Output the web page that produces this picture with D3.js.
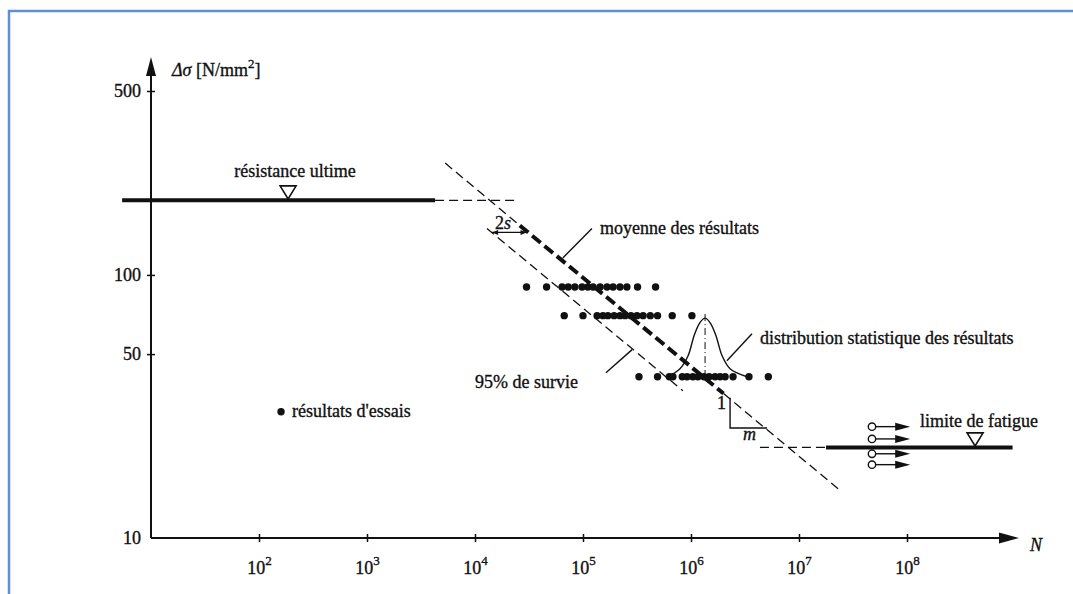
<!DOCTYPE html>
<html lang="fr">
<head>
<meta charset="utf-8">
<title>Courbe de Wöhler</title>
<script src="https://cdn.jsdelivr.net/npm/d3@7"></script>
<style>
  body { margin: 0; background: #fff; }
  svg { display: block; font-family: "Liberation Serif", "DejaVu Serif", serif; }
  .tick text { font-size: 18px; fill: #111; stroke: #111; stroke-width: 0.35px; }
  .tick line { stroke: #111; stroke-width: 1.5px; }
  .lbl { font-size: 18px; fill: #111; stroke: #111; stroke-width: 0.35px; }
</style>
</head>
<body>
<div id="chart"></div>
<script>
// axis ticks
var yTicks = [10, 50, 100, 500];
var xTicks = [1e2, 1e3, 1e4, 1e5, 1e6, 1e7, 1e8];

// test results: stress level (N/mm2) and cycle counts per row
var levels = [90, 70, 41];
var resultsN = [
  [3.0e4, 4.6e4, 6.4e4, 7.3e4, 8.4e4, 9.8e4, 1.11e5, 1.24e5, 1.44e5, 1.67e5, 1.90e5, 2.2e5, 2.55e5, 3.2e5, 4.7e5],
  [6.7e4, 1.0e5, 1.35e5, 1.53e5, 1.70e5, 1.94e5, 2.2e5, 2.45e5, 2.78e5, 3.16e5, 3.6e5, 4.2e5, 4.9e5, 6.7e5, 1.02e6],
  [3.3e5, 4.9e5, 6.3e5, 6.8e5, 8.3e5, 9.2e5, 1.04e6, 1.16e6, 1.32e6, 1.47e6, 1.67e6, 1.86e6, 2.07e6, 2.45e6, 3.44e6, 5.2e6]
];

// mean curve (thin, thick, thin parts) and 95% survival curve
var meanN = [5.3e3, 2.6e4, 2.0e6, 2.3e7];
var meanS = [266, 154, 35.4, 15.4];
var survN = [1.29e4, 8.4e5];
var survS = [150, 36.3];

// ultimate strength and fatigue limit
var ultimateS = 192;
var ultimateN = [5.4, 4.27e3, 2.45e4];   // solid start, solid end, dashed end
var ultimateMark = 186;
var fatigueS = 22.1;
var fatigueN = [4.35e6, 1.78e7, 9.5e8]; // dashed start, solid start, solid end
var fatigueMark = 4.27e8;

// run-outs (circles with arrows)
var runoutS = [26.5, 23.8, 20.9, 19.0];
var runoutN = [4.74e7, 1.07e8];

// statistical distribution bell at N = 1.35e6
var bellN = [6.1e5, 7.9e5, 9.4e5, 1.07e6, 1.21e6, 1.35e6, 1.50e6, 1.70e6, 1.94e6, 2.30e6, 3.30e6];
var bellS = [41, 44, 49.3, 58.9, 65.9, 68.5, 65.9, 58.9, 49.3, 44, 41];

// slope triangle 1 : m
var slopeN = [2.3e6, 5.06e6];
var slopeS = [34.1, 26.2];

var W = 1073, H = 594;
var x = d3.scaleLog().domain([10, 1e9]).range([151, 1015]);
var y = d3.scaleLog().domain([10, 500]).range([538, 91]);

var svg = d3.select("#chart").append("svg")
  .attr("width", W).attr("height", H);

// blue frame
svg.append("rect")
  .attr("x", 9).attr("y", 11).attr("width", W + 20).attr("height", H + 20)
  .attr("fill", "none").attr("stroke", "#5f90d6").attr("stroke-width", 2.5);

var x0 = x(10), yBase = y(10);

// y axis
var gy = svg.append("g").attr("transform", "translate(" + x0 + ",0)")
  .call(d3.axisLeft(y).tickValues(yTicks).tickFormat(d3.format("d")).tickSize(4).tickPadding(6))
  .attr("font-family", null).attr("font-size", null);
gy.select(".domain").remove();
gy.selectAll(".tick line").attr("x1", 4);
gy.selectAll(".tick").filter(function(d) { return d === 10; }).select("line").remove();

// x axis
var gx = svg.append("g").attr("transform", "translate(0," + yBase + ")")
  .call(d3.axisBottom(x).tickValues(xTicks).tickFormat(function() { return "10"; }).tickSize(4))
  .attr("font-family", null).attr("font-size", null);
gx.select(".domain").remove();
gx.selectAll(".tick line").attr("y1", -4);
gx.selectAll(".tick text")
  .attr("y", 36).attr("dy", 0)
  .append("tspan").attr("dy", -9).attr("font-size", 13)
  .text(function(d) { return Math.round(Math.log10(d)); });

// axis lines with arrows
svg.append("line").attr("x1", x0).attr("y1", yBase).attr("x2", x0).attr("y2", 70)
  .attr("stroke", "#111").attr("stroke-width", 2);
svg.append("path").attr("d", "M" + x0 + ",57 L" + (x0 - 5) + ",76 L" + (x0 + 5) + ",76 Z").attr("fill", "#111");
svg.append("line").attr("x1", x0).attr("y1", yBase).attr("x2", 1004).attr("y2", yBase)
  .attr("stroke", "#111").attr("stroke-width", 2);
svg.append("path").attr("d", "M1019," + yBase + " L999," + (yBase - 5.5) + " L999," + (yBase + 5.5) + " Z").attr("fill", "#111");

// axis titles
var yt = svg.append("text").attr("class", "lbl").attr("x", 172).attr("y", 76);
yt.append("tspan").attr("font-style", "italic").text("Δσ");
yt.append("tspan").text(" [N/mm");
yt.append("tspan").attr("dy", -8).attr("font-size", 13).text("2");
yt.append("tspan").attr("dy", 8).text("]");
svg.append("text").attr("class", "lbl").attr("x", 1030).attr("y", 551)
  .attr("font-style", "italic").text("N");

var line = d3.line().x(function(d) { return x(d[0]); }).y(function(d) { return y(d[1]); });
function seg(n, s, i, j) { return [[n[i], s[i]], [n[j], s[j]]]; }

// ultimate strength
svg.append("path").attr("d", line([[ultimateN[0], ultimateS], [ultimateN[1], ultimateS]]))
  .attr("stroke", "#111").attr("stroke-width", 4).attr("fill", "none");
svg.append("path").attr("d", line([[ultimateN[1], ultimateS], [ultimateN[2], ultimateS]]))
  .attr("stroke", "#111").attr("stroke-width", 1.3).attr("stroke-dasharray", "9,5").attr("fill", "none");

// fatigue limit
svg.append("path").attr("d", line([[fatigueN[0], fatigueS], [fatigueN[1], fatigueS]]))
  .attr("stroke", "#111").attr("stroke-width", 1.3).attr("stroke-dasharray", "9,5").attr("fill", "none");
svg.append("path").attr("d", line([[fatigueN[1], fatigueS], [fatigueN[2], fatigueS]]))
  .attr("stroke", "#111").attr("stroke-width", 4).attr("fill", "none");

// triangles on horizontal lines
function triangle(n, s) {
  var cx = x(n), cy = y(s) - 1.5;
  return "M" + (cx - 8) + "," + (cy - 13) + " L" + (cx + 8) + "," + (cy - 13) + " L" + cx + "," + cy + " Z";
}
svg.append("path").attr("d", triangle(ultimateMark, ultimateS))
  .attr("fill", "#fff").attr("stroke", "#111").attr("stroke-width", 1.6);
svg.append("path").attr("d", triangle(fatigueMark, fatigueS))
  .attr("fill", "#fff").attr("stroke", "#111").attr("stroke-width", 1.6);

// mean curve
svg.append("path").attr("d", line(seg(meanN, meanS, 0, 1)))
  .attr("stroke", "#111").attr("stroke-width", 1.3).attr("stroke-dasharray", "9,5").attr("fill", "none");
svg.append("path").attr("d", line(seg(meanN, meanS, 1, 2)))
  .attr("stroke", "#111").attr("stroke-width", 4).attr("stroke-dasharray", "11,5").attr("fill", "none");
svg.append("path").attr("d", line(seg(meanN, meanS, 2, 3)))
  .attr("stroke", "#111").attr("stroke-width", 1.3).attr("stroke-dasharray", "9,5").attr("fill", "none");

// 95% survival curve
svg.append("path").attr("d", line(seg(survN, survS, 0, 1)))
  .attr("stroke", "#111").attr("stroke-width", 1.3).attr("stroke-dasharray", "9,5").attr("fill", "none");

// 2s arrow between the curves
var arrS = 145, arrN = [1.44e4, 3.0e4];
svg.append("path").attr("d", line([[arrN[0], arrS], [arrN[1], arrS]]))
  .attr("stroke", "#111").attr("stroke-width", 1.2).attr("fill", "none");
svg.append("path")
  .attr("d", "M" + x(arrN[0]) + "," + y(arrS) + " l6,-2.5 l0,5 Z M" + x(arrN[1]) + "," + y(arrS) + " l-6,-2.5 l0,5 Z")
  .attr("fill", "#111");
var t2s = svg.append("text").attr("class", "lbl").attr("x", x(arrN[0]) + 3).attr("y", y(arrS) - 3);
t2s.append("tspan").text("2");
t2s.append("tspan").attr("font-style", "italic").text("s");

// test results
levels.forEach(function(s, i) {
  svg.append("g").selectAll("circle").data(resultsN[i]).enter().append("circle")
    .attr("cx", function(d) { return x(d); })
    .attr("cy", y(s))
    .attr("r", 3.7)
    .attr("fill", "#111");
});

// distribution bell and its centre line
var bell = d3.line().curve(d3.curveCatmullRom)
  .x(function(d) { return x(d[0]); }).y(function(d) { return y(d[1]); });
svg.append("path").attr("d", bell(bellN.map(function(n, i) { return [n, bellS[i]]; })))
  .attr("stroke", "#111").attr("stroke-width", 1.4).attr("fill", "none");
svg.append("path").attr("d", line([[bellN[5], 71], [bellN[5], levels[2]]]))
  .attr("stroke", "#111").attr("stroke-width", 1).attr("stroke-dasharray", "7,3,1,3").attr("fill", "none");

// slope triangle
svg.append("path").attr("d", line([[slopeN[0], slopeS[0]], [slopeN[0], slopeS[1]], [slopeN[1], slopeS[1]]]))
  .attr("stroke", "#111").attr("stroke-width", 1.4).attr("fill", "none");
svg.append("text").attr("class", "lbl").attr("x", x(slopeN[0]) - 4).attr("y", y(slopeS[0]) + 11)
  .attr("text-anchor", "end").text("1");
svg.append("text").attr("class", "lbl").attr("x", x(slopeN[0]) + 13).attr("y", y(slopeS[1]) + 12)
  .attr("font-style", "italic").attr("font-size", 16).text("m");

// run-outs
runoutS.forEach(function(s) {
  var cx = x(runoutN[0]), cy = y(s), xe = x(runoutN[1]);
  svg.append("line").attr("x1", cx).attr("y1", cy).attr("x2", xe - 10).attr("y2", cy)
    .attr("stroke", "#111").attr("stroke-width", 1.4);
  svg.append("path").attr("d", "M" + xe + "," + cy + " L" + (xe - 15) + "," + (cy - 4) + " L" + (xe - 15) + "," + (cy + 4) + " Z")
    .attr("fill", "#111");
  svg.append("circle").attr("cx", cx).attr("cy", cy).attr("r", 3.7)
    .attr("fill", "#fff").attr("stroke", "#111").attr("stroke-width", 1.4);
});

// leader lines: mean, 95% survival, distribution
var leaders = [
  [[6.5e4, 116], [1.21e5, 150]],
  [[1.63e5, 42.5], [2.85e5, 52]],
  [[2.15e6, 47.2], [3.67e6, 59.8]]
];
leaders.forEach(function(l) {
  svg.append("path").attr("d", line(l)).attr("stroke", "#111").attr("stroke-width", 1.4).attr("fill", "none");
});

// labels
svg.append("text").attr("class", "lbl").attr("x", x(ultimateMark) + 7).attr("y", 177)
  .attr("text-anchor", "middle").text("résistance ultime");
svg.append("text").attr("class", "lbl").attr("x", 600).attr("y", 234).text("moyenne des résultats");
svg.append("text").attr("class", "lbl").attr("x", 760).attr("y", 344).text("distribution statistique des résultats");
svg.append("text").attr("class", "lbl").attr("x", 578).attr("y", 388).attr("text-anchor", "end").text("95% de survie");
svg.append("text").attr("class", "lbl").attr("x", 920).attr("y", 427).text("limite de fatigue");

// legend
svg.append("circle").attr("cx", x(160)).attr("cy", y(30.2)).attr("r", 3.7).attr("fill", "#111");
svg.append("text").attr("class", "lbl").attr("x", x(160) + 11).attr("y", y(30.2) + 5).text("résultats d'essais");
</script>
</body>
</html>
